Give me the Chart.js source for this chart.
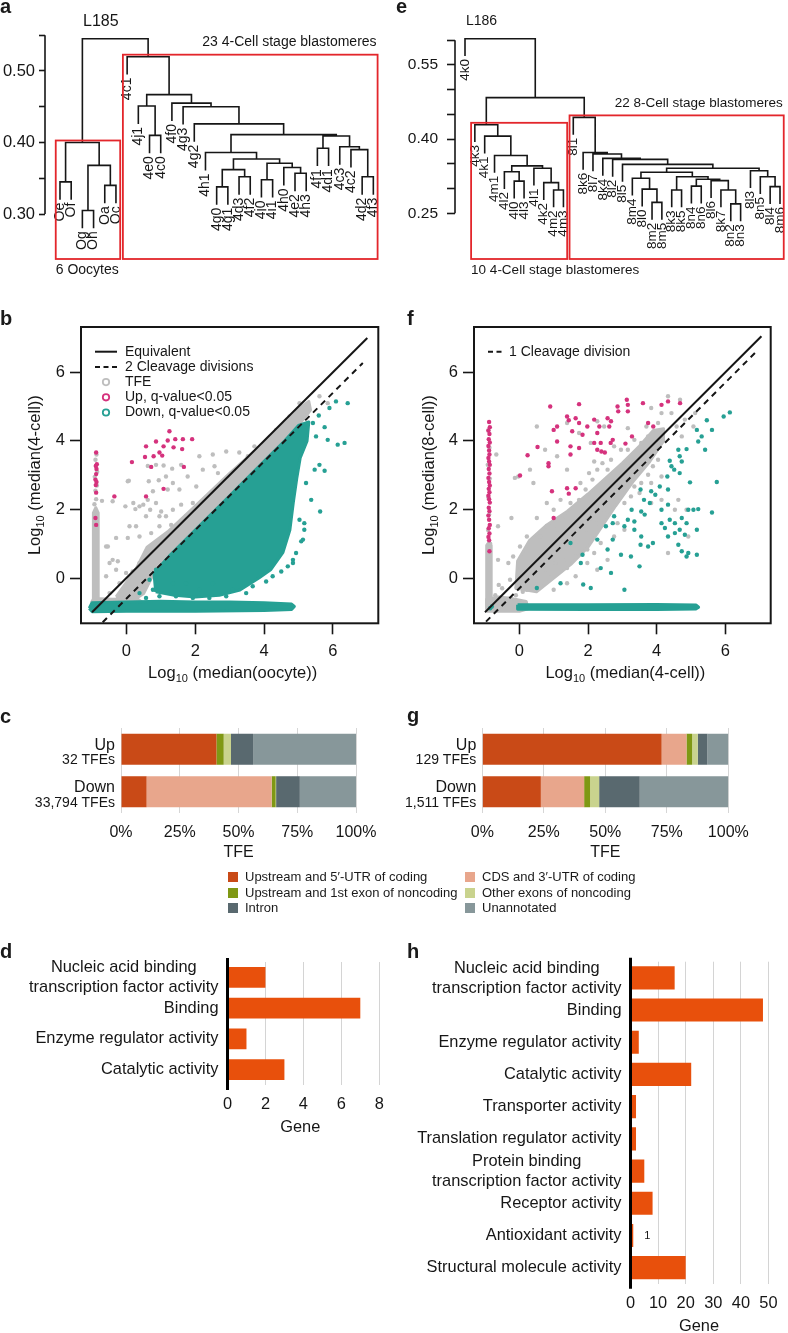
<!DOCTYPE html>
<html>
<head>
<meta charset="utf-8">
<title>TFE clustering and expression figure</title>
<script src="https://cdn.jsdelivr.net/npm/chart.js@4.4.1/dist/chart.umd.min.js"></script>
<style>
  html, body { margin: 0; background: #fff; }
  #fig { position: relative; width: 788px; height: 1333px; overflow: hidden;
         font-family: "Liberation Sans", Arial, sans-serif; color: #1a1a1a; }
  #fig canvas { position: absolute; }
  .tag { position: absolute; font-size: 20px; font-weight: bold; line-height: 20px; }
  .key { position: absolute; font-size: 13px; line-height: 14px; white-space: nowrap; }
  .key i { position: absolute; left: -17px; top: 2px; width: 10px; height: 10px; }
</style>
</head>
<body>
<div id="fig">
  <canvas id="pa" width="394" height="282" style="left:0;top:0"></canvas>
  <canvas id="pe" width="394" height="282" style="left:394px;top:0"></canvas>
  <canvas id="pb" width="394" height="390" style="left:0;top:300px"></canvas>
  <canvas id="pf" width="394" height="390" style="left:394px;top:300px"></canvas>
  <canvas id="pc" width="394" height="170" style="left:0;top:700px"></canvas>
  <canvas id="pg" width="394" height="170" style="left:394px;top:700px"></canvas>
  <canvas id="pd" width="394" height="200" style="left:0;top:935px"></canvas>
  <canvas id="ph" width="394" height="398" style="left:394px;top:935px"></canvas>
  <div class="tag" style="left:0;top:-4px">a</div>
  <div class="tag" style="left:396px;top:-4px">e</div>
  <div class="tag" style="left:0;top:308px">b</div>
  <div class="tag" style="left:407px;top:308px">f</div>
  <div class="tag" style="left:0;top:706px">c</div>
  <div class="tag" style="left:407px;top:705px">g</div>
  <div class="tag" style="left:0;top:941px">d</div>
  <div class="tag" style="left:407px;top:941px">h</div>
</div>
<script>
// ---------- a: oocyte vs 4-cell dendrogram (L185) ----------
const leavesA = ['Oe','Of','Og','Oh','Oa','Oc','4c1','4j1','4e0','4c0','4f0','4g3','4g2','4h1','4g0','4g1',
  '4d3','4f2','4i0','4i1','4h0','4e2','4h3','4f1','4d1','4c3','4c2','4d2','4f3'];
// [left, right, height]; negative = leaf number, positive = earlier merge number
const mergesA = [
  [-1,-2,0.345], [-3,-4,0.305], [-5,-6,0.340], [2,3,0.368], [1,4,0.400],
  [-9,-10,0.410], [-8,6,0.451], [-15,-16,0.338], [-17,-18,0.352], [8,9,0.362],
  [-19,-20,0.348], [-22,-23,0.357], [-21,12,0.365], [11,13,0.371], [10,14,0.377],
  [-14,15,0.386], [-24,-25,0.392], [-28,-29,0.352], [-27,18,0.390], [-26,19,0.394],
  [17,20,0.409], [16,21,0.411], [-13,22,0.426], [-12,23,0.450], [-11,24,0.455],
  [7,25,0.467], [-7,26,0.520], [5,27,0.545]
];

// ---------- e: 4-cell vs 8-cell dendrogram (L186) ----------
const leavesE = ['4k0','4k3','4k1','4m1','4l2','4l0','4l3','4l1','4k2','4m2','4m3','8l1','8k6','8l7','8k4',
  '8l2','8l5','8m4','8l0','8m2','8m5','8k3','8k5','8n4','8n6','8l6','8k7','8n2','8n3','8l3','8n5','8l4','8m6'];
const mergesE = [
  [-6,-7,0.315], [-5,1,0.334], [-10,-11,0.297], [-9,3,0.312], [-8,4,0.341],
  [2,5,0.346], [-4,6,0.367], [-3,7,0.406], [-2,8,0.429], [-20,-21,0.272],
  [-19,10,0.299], [-18,11,0.321], [-22,-23,0.297], [-24,-25,0.305], [-28,-29,0.269],
  [-27,15,0.297], [-26,16,0.316], [14,17,0.319], [13,18,0.324], [12,19,0.333],
  [-32,-33,0.304], [-31,21,0.324], [-30,22,0.336], [20,23,0.341], [-17,24,0.349],
  [-16,25,0.359], [-15,26,0.361], [-14,27,0.370], [-13,28,0.373], [-12,29,0.444],
  [9,30,0.484], [-1,31,0.603]
];

// ---------- b: oocyte -> 4-cell scatter ----------
const bGrayCore = [[-0.3,-0.55],[0.3,0.3],[0.6,0.9],[1.2,1.35],[2.0,2.1],[3.0,3.05],[4.0,3.95],[4.6,4.5],
  [5.1,5.0],[5.3,5.15],[5.35,4.9],[5.0,4.45],[4.0,3.4],[3.0,2.4],[2.0,1.4],[1.3,0.7],[0.8,0.15],[0.5,-0.45],[0.2,-0.65]];
const bGrayColumn = [[-0.96,-0.9],[-0.96,1.9],[-0.89,2.05],[-0.82,1.9],[-0.82,-0.9]];
const bGrayBlob = [[-1.02,-0.72],[-0.95,-0.6],[-0.4,-0.62],[0.3,-0.6],[0.45,-0.7],[-0.5,-0.74]];
const bGrayPts = [[-0.40,2.24],[-0.71,2.25],[0.07,2.84],[0.20,2.19],[-0.03,2.09],[0.26,2.01],[0.49,2.14],[0.65,2.82],
  [0.62,3.27],[0.86,3.30],[1.08,3.28],[1.33,3.19],[0.94,2.85],[1.15,2.96],[1.35,2.77],[1.54,2.58],[1.20,2.58],
  [0.77,2.53],[0.86,2.19],[0.69,1.99],[1.01,1.94],[1.15,1.80],[1.35,1.99],[1.59,2.14],[1.73,1.80],[1.62,1.60],
  [1.30,1.55],[0.96,1.51],[0.72,1.31],[0.38,1.21],[0.09,1.51],[-0.30,1.17],[-0.59,0.92],[-0.25,0.49],[-0.49,0.44],
  [2.22,3.16],[2.12,3.55],[2.51,3.60],[2.90,3.69],[3.28,3.66],[3.53,3.55],[2.56,3.26],[2.66,3.06],[2.03,2.67],
  [1.78,2.96],[1.59,3.30],[2.66,2.67],[2.99,2.96],[3.72,3.84],[4.35,4.32],[4.74,4.71],[5.03,5.10],[5.61,5.30],
  [5.85,5.10],[2.32,2.28],[2.12,1.99],[1.93,2.19],[1.88,1.60],[1.54,1.21],[1.20,1.12],[0.86,0.92],[0.57,0.63],
  [0.38,0.44],[0.18,0.19],[-0.01,0.15],[0.67,0.24],[1.15,0.44],[-0.54,0.92],[-0.40,0.53],[-0.30,0.24],[-0.59,0.05],
  [-0.49,-0.44],[-0.20,-0.15],[-0.01,-0.53],[0.14,-0.29],[0.33,0.05],[0.47,0.34],[0.04,1.17],[0.28,1.51],[0.57,1.80],
  [0.38,2.09],[0.04,2.82],[0.62,2.28],[0.96,1.80],[-0.88,2.30],[-0.90,2.55],[-0.86,2.70],[-0.92,2.95],[-0.85,3.10],
  [-0.90,3.45],[-0.87,3.60],[-0.93,2.15]];
const bTealBand = [[-1.08,-0.88],[-1.0,-0.72],[0.0,-0.7],[1.0,-0.68],[2.0,-0.7],[3.0,-0.7],[4.0,-0.72],[4.8,-0.76],
  [4.88,-0.83],[4.8,-0.92],[4.0,-0.95],[2.0,-0.97],[0.0,-0.97],[-1.0,-0.98]];
const bTealCore = [[0.85,-0.4],[0.8,0.15],[1.3,0.7],[2.0,1.4],[3.0,2.4],[4.0,3.4],[4.6,4.0],[5.0,4.45],[5.3,4.55],
  [5.25,4.0],[5.05,3.5],[4.95,2.9],[4.85,2.2],[4.75,1.4],[4.55,0.75],[4.2,0.25],[3.85,0.0],[3.3,-0.35],[2.7,-0.5],
  [2.0,-0.55],[1.4,-0.5]];
const bTealPts = [[6.09,5.15],[6.43,5.10],[5.90,4.96],[5.59,4.74],[5.76,4.40],[5.42,4.52],[5.85,4.03],[6.14,3.89],
  [6.34,3.94],[5.51,4.13],[5.61,3.30],[5.76,3.13],[5.47,3.16],[5.63,1.94],[5.37,2.28],[5.22,2.77],[5.17,1.60],
  [5.08,1.07],[4.93,0.73],[4.84,0.53],[4.69,0.34],[4.50,0.19],[4.25,0.05],[4.06,-0.10],[3.67,-0.24],[3.48,-0.44],
  [2.90,-0.53],[2.41,-0.58],[1.93,-0.58],[1.44,-0.53],[0.96,-0.53],[0.57,-0.58],[0.38,-0.44],[0.77,-0.34],
  [0.67,-0.05],[0.86,0.24],[1.15,0.44],[2.51,-0.15],[3.09,-0.34],[2.12,-0.34],[1.73,-0.15],[1.35,-0.15],
  [4.84,0.44],[5.13,1.12],[5.17,1.41],[5.03,1.70]];
const bUpPts = [[-0.88,3.66],[-0.86,3.32],[-0.89,3.27],[-0.87,3.18],[-0.88,3.03],[-0.90,2.87],[-0.87,2.80],
  [-0.89,2.71],[-0.88,2.49],[-0.90,1.75],[-0.88,1.55],[1.25,4.28],[0.57,3.84],[0.86,3.98],[1.08,3.84],[1.20,4.01],
  [1.42,4.05],[1.64,4.05],[1.91,4.05],[1.37,3.81],[1.62,3.76],[0.16,3.38],[0.54,3.53],[0.79,3.55],[0.96,3.66],
  [1.04,3.57],[0.72,3.24],[1.67,3.24],[1.08,2.60],[-0.35,2.38],[0.57,2.38]];
const bEquiv = [[-1.0,-1.0],[7.0,7.0]];
const bCleave = [[-0.69,-1.29],[6.87,6.27]];

// ---------- f: 4-cell -> 8-cell scatter ----------
const fGrayCore = [[-0.1,-0.3],[-0.05,0.5],[0.3,1.1],[0.8,1.55],[1.4,1.95],[2.0,2.45],[2.5,2.9],[3.0,3.35],
  [3.5,3.85],[3.9,4.3],[4.2,4.35],[4.2,4.0],[3.8,3.4],[3.3,2.8],[2.8,2.1],[2.4,1.5],[2.0,0.9],[1.5,0.4],[1.0,0.0],[0.5,-0.4]];
const fGrayColumn = [[-0.95,-0.9],[-0.95,0.95],[-0.88,1.05],[-0.82,0.95],[-0.82,-0.9]];
const fGrayBlob = [[-0.95,-0.97],[-0.95,-0.62],[-0.6,-0.55],[-0.2,-0.6],[0.2,-0.68],[0.25,-0.9],[0.0,-0.97]];
const fGrayPts = [[4.33,5.30],[4.68,5.20],[3.84,4.96],[4.14,4.81],[4.43,4.81],[4.58,4.42],[4.04,4.52],[3.70,4.42],
  [3.75,4.13],[3.55,3.94],[3.65,3.69],[3.35,3.55],[3.50,3.26],[3.16,3.26],[3.21,2.96],[2.96,2.96],[3.06,2.67],
  [2.76,2.67],[2.76,2.38],[2.57,2.38],[2.37,2.19],[2.47,1.99],[2.18,1.99],[2.08,1.75],[2.27,1.60],[1.78,1.60],
  [1.93,1.41],[1.59,1.31],[1.39,1.21],[1.20,1.07],[1.00,0.92],[0.80,0.73],[0.61,0.63],[0.41,0.44],[0.22,0.24],
  [0.07,0.05],[1.74,1.02],[1.98,0.83],[1.64,0.63],[1.29,0.53],[1.05,0.44],[0.75,0.24],[0.51,0.15],[1.39,0.29],
  [0.90,0.00],[0.51,-0.19],[0.22,-0.34],[-0.08,-0.29],[-0.27,-0.05],[-0.32,0.44],[-0.18,0.63],[0.02,0.92],
  [0.22,1.21],[-0.23,1.75],[-0.62,1.51],[-0.62,0.53],[0.51,1.75],[0.80,1.51],[0.61,1.21],[1.10,1.41],[1.25,1.70],
  [1.39,1.90],[1.64,1.80],[1.00,1.99],[0.80,2.19],[1.20,2.28],[1.49,2.19],[1.74,2.28],[1.88,1.99],[1.93,2.58],
  [1.78,2.77],[2.13,2.87],[2.27,3.16],[2.18,3.40],[2.42,3.35],[2.57,3.16],[2.67,3.45],[2.03,3.06],[1.39,3.16],
  [1.10,3.55],[0.75,3.74],[0.41,2.77],[0.31,3.16],[-0.03,2.96],[-0.13,2.92],[-0.67,3.60],[0.51,4.42],[1.39,4.52],
  [1.74,4.23],[2.27,4.57],[2.47,4.42],[3.16,4.37],[3.35,4.03],[2.96,3.74],[2.08,3.94],[2.76,3.84],[3.16,3.74],
  [3.94,3.74],[4.04,3.45],[4.14,2.96],[3.75,3.01],[3.84,2.77],[3.89,3.26],[3.55,2.77],[3.35,2.67],[3.25,2.38],
  [3.06,2.19],[3.50,2.48],[3.84,2.19],[4.14,2.28],[4.63,2.28],[4.87,1.99],[4.53,1.99],[4.33,0.73],[4.92,1.21],
  [5.12,4.81],[4.82,4.62],[5.07,4.42],[4.73,4.13],[1.98,0.44],[2.27,0.24],[2.57,0.53],[2.18,0.73],[2.37,1.02],
  [2.76,1.21],[3.06,1.41],[2.86,1.60],[1.64,0.05],[1.39,-0.15],[1.00,-0.34],[-0.70,-0.50],[-0.50,-0.30],
  [-0.30,-0.60],[-0.60,-0.20],[-0.10,-0.50],[0.10,-0.40],[-0.90,4.30],[-0.87,3.80],[-0.92,3.30],[-0.86,2.90],
  [-0.90,2.35],[-0.88,1.85],[-0.91,1.40],[-0.85,1.00]];
const fTealBand = [[-0.05,-0.78],[2.0,-0.78],[4.0,-0.77],[5.15,-0.79],[5.22,-0.85],[5.15,-0.9],[4.0,-0.92],
  [2.0,-0.92],[-0.05,-0.91]];
const fTealPts = [[6.13,4.83],[5.95,4.71],[5.46,4.60],[5.61,4.32],[5.17,4.32],[5.31,4.13],[5.21,3.98],[5.41,3.74],
  [4.87,3.76],[4.63,3.74],[4.38,3.42],[4.67,3.55],[4.73,3.40],[4.43,3.26],[4.51,3.16],[4.67,3.06],[4.31,2.96],
  [4.97,2.79],[5.75,2.80],[4.09,2.67],[3.84,2.53],[3.96,2.43],[3.53,2.58],[3.63,2.28],[3.80,2.19],[4.33,2.58],
  [4.33,2.14],[4.14,1.99],[3.55,1.94],[3.65,1.85],[3.27,1.99],[3.16,1.70],[3.35,1.65],[2.76,1.80],[2.52,1.51],
  [2.72,1.60],[3.06,1.51],[3.35,1.41],[3.55,1.21],[3.53,0.97],[3.75,0.92],[3.89,1.02],[4.14,1.60],[4.24,1.46],
  [4.38,1.70],[4.53,1.60],[4.73,1.75],[4.67,1.41],[4.87,1.60],[4.92,1.99],[5.07,1.99],[5.21,2.01],[5.61,1.91],
  [4.33,1.21],[4.53,1.31],[4.82,1.26],[5.17,1.41],[4.63,0.97],[4.73,0.78],[4.92,0.73],[5.17,0.68],[4.87,0.63],
  [2.27,1.12],[1.84,0.68],[1.79,0.44],[2.37,0.29],[2.67,0.15],[2.96,0.68],[3.25,0.63],[3.50,0.34],[1.49,1.02],
  [1.20,-0.15],[0.51,-0.29],[1.86,-0.19],[2.08,-0.29],[3.06,-0.34],[2.57,0.83],[2.72,1.12],[-0.85,-0.88],[-0.80,-0.83]];
const fUpPts = [[-0.88,4.55],[-0.86,4.40],[-0.90,4.30],[-0.87,4.20],[-0.89,4.05],[-0.86,3.95],[-0.90,3.85],
  [-0.88,3.72],[-0.87,3.60],[-0.90,3.50],[-0.88,3.40],[-0.86,3.30],[-0.89,3.18],[-0.87,3.05],[-0.90,2.92],
  [-0.88,2.80],[-0.86,2.70],[-0.89,2.60],[-0.87,2.50],[-0.90,2.40],[-0.88,2.30],[-0.86,2.20],[-0.89,2.05],
  [-0.87,1.95],[-0.90,1.82],[-0.88,1.70],[-0.86,1.55],[-0.89,1.45],[-0.87,1.30],[-0.90,1.20],[-0.88,1.10],
  [-0.87,0.78],[0.90,5.00],[1.74,5.07],[1.39,4.71],[1.44,4.60],[1.64,4.66],[1.10,4.42],[1.00,4.32],[1.54,4.28],
  [1.74,4.52],[1.84,4.18],[2.18,4.62],[2.33,4.42],[2.57,4.66],[2.67,4.57],[2.62,4.42],[2.86,5.00],[2.88,4.86],
  [3.13,5.20],[3.16,5.05],[3.16,4.86],[3.60,5.10],[4.14,5.05],[4.33,5.15],[4.68,5.10],[3.75,4.52],[3.90,4.42],
  [3.28,4.13],[3.09,3.92],[2.72,4.03],[2.66,3.94],[2.37,3.94],[2.27,4.23],[2.18,3.94],[1.98,4.42],[1.10,3.98],
  [1.49,3.84],[1.49,3.60],[1.74,3.79],[2.27,3.74],[2.39,3.69],[2.49,3.66],[0.24,3.58],[0.53,3.82],[0.02,2.99],
  [0.85,3.35],[0.85,3.26],[1.39,2.62],[1.64,2.62],[1.44,2.46],[0.95,2.53],[1.00,1.75]];
const fEquiv = [[-1.0,-1.0],[7.05,7.05]];
const fCleave = [[-0.97,-1.27],[6.9,6.6]];

// ---------- c / g: TFE annotation (percent of TFEs) ----------
const segLabels = ['Upstream and 5\u2032-UTR of coding', 'CDS and 3\u2032-UTR of coding',
  'Upstream and 1st exon of noncoding', 'Other exons of noncoding', 'Intron', 'Unannotated'];
const segColors = ['#c94a17', '#e8a68c', '#7f9814', '#c9d38e', '#59696f', '#87979a'];
const tfeRows = ['Up', 'Down'];
const cCounts = ['32 TFEs', '33,794 TFEs'];
const gCounts = ['129 TFEs', '1,511 TFEs'];
const cUp = [40.6, 0, 3.1, 3.1, 9.4, 43.8];
const cDown = [10.9, 53.2, 1.7, 0.2, 10.1, 23.9];
const gUp = [72.9, 10.1, 2.3, 2.3, 3.9, 8.5];
const gDown = [23.8, 17.6, 2.4, 3.7, 16.5, 36.0];
const pctTicks = [0, 25, 50, 75, 100];

// ---------- d / h: GO molecular function (genes) ----------
const goD = [['Nucleic acid binding', 'transcription factor activity'], 'Binding', 'Enzyme regulator activity',
  'Catalytic activity'];
const geneD = [2, 7, 1, 3];
const goH = [['Nucleic acid binding', 'transcription factor activity'], 'Binding', 'Enzyme regulator activity',
  'Catalytic activity', 'Transporter activity', 'Translation regulator activity',
  ['Protein binding', 'transcription factor activity'], 'Receptor activity', 'Antioxidant activity',
  'Structural molecule activity'];
const geneH = [16, 48, 3, 22, 2, 2, 5, 8, 1, 20];

// ===================================================================
const FONT = '"Liberation Sans", Arial, sans-serif';
const INK = '#161616';
const GRAY = '#bebebe', PINK = '#d5327d', TEAL = '#26a094', RED = '#e3262b', BAR = '#e8500c';
Chart.defaults.font.family = FONT;
Chart.defaults.color = INK;
Chart.defaults.animation = false;
Chart.defaults.plugins.legend.display = false;
Chart.defaults.plugins.tooltip.enabled = false;

const pts = arr => arr.map(([x, y]) => ({x, y}));
const poly = arr => pts(arr.concat([arr[0]]));

// ---------------- dendrograms ----------------
function dendrogram(id, leaves, merges, o) {
  const nodeX = [], leafEnd = [], segs = [];
  merges.forEach(([a, b, h]) => {
    const ends = [a, b].map(k => {
      if (k < 0) { leafEnd[-k - 1] = h - o.hang; return {x: -k, y: h - o.hang}; }
      return {x: nodeX[k - 1], y: merges[k - 1][2]};
    });
    segs.push({x: ends[0].x, y: ends[0].y}, {x: ends[0].x, y: h}, {x: ends[1].x, y: h},
              {x: ends[1].x, y: ends[1].y}, {x: ends[1].x, y: null});
    nodeX.push((ends[0].x + ends[1].x) / 2);
  });

  const deco = {
    id: 'dendro',
    afterDraw(chart) {
      const {ctx, chartArea: area, scales: {x, y}} = chart;
      ctx.save();
      ctx.strokeStyle = INK; ctx.lineWidth = 1.6;
      ctx.beginPath();
      ctx.moveTo(area.left, y.getPixelForValue(o.axis[0]));
      ctx.lineTo(area.left, y.getPixelForValue(o.axis[1]));
      ctx.stroke();
      // leaf labels, rotated
      ctx.fillStyle = INK; ctx.font = o.leafFont + 'px ' + FONT;
      ctx.textAlign = 'right'; ctx.textBaseline = 'middle';
      leaves.forEach((lab, i) => {
        ctx.save();
        ctx.translate(x.getPixelForValue(i + 1), y.getPixelForValue(leafEnd[i]) + 3);
        ctx.rotate(-Math.PI / 2);
        ctx.fillText(lab, 0, 0);
        ctx.restore();
      });
      // cluster boxes
      ctx.font = o.capFont + 'px ' + FONT;
      o.clusters.forEach(c => {
        const l = x.getPixelForValue(c.from - 0.38), r = x.getPixelForValue(c.to + 0.38);
        const t = y.getPixelForValue(merges[c.node - 1][2]) - 2, b = area.bottom - 3;
        ctx.strokeStyle = RED; ctx.lineWidth = 1.8;
        ctx.strokeRect(l, t, r - l, b - t);
        ctx.fillStyle = INK;
        if (c.above) { ctx.textAlign = 'right'; ctx.fillText(c.text, r - 1, t - 12.5); }
        else { ctx.textAlign = 'left'; ctx.fillText(c.text, l, b + 11); }
      });
      ctx.textAlign = 'left';
      ctx.font = o.titleFont + 'px ' + FONT;
      ctx.fillText(o.title, o.titleX, 21.5);
      ctx.restore();
    }
  };

  new Chart(document.getElementById(id), {
    type: 'scatter',
    data: {datasets: [{data: segs, showLine: true, spanGaps: false, borderColor: INK, borderWidth: 1.6,
      pointRadius: 0}]},
    options: {
      responsive: false,
      layout: {padding: {left: 0, right: o.padRight, top: 28, bottom: 20}},
      scales: {
        x: {type: 'linear', display: false, min: o.xMin, max: o.xMax},
        y: {min: o.yMin, max: o.yMax, border: {display: false},
          afterFit: s => { s.width = o.axisLeft; },
          afterBuildTicks: s => { s.ticks = s.ticks.filter(t => t.value > o.axis[0] - 1e-6 && t.value < o.axis[1] + 1e-6); },
          grid: {drawOnChartArea: false, tickLength: o.tickLen, tickColor: INK, tickWidth: 1.6},
          ticks: {stepSize: 0.05, includeBounds: false, padding: o.tickPad, font: {size: o.tickFont}, color: INK,
            callback: v => o.tickLabels.some(t => Math.abs(t - v) < 1e-6) ? v.toFixed(2) : ''}}
      }
    },
    plugins: [deco]
  });
}

dendrogram('pa', leavesA, mergesA, {
  hang: 0.025, xMin: -0.34, xMax: 30.31, yMin: 0.2329, yMax: 0.5601, padRight: 6,
  axisLeft: 45, tickLen: 6, tickPad: 4, axis: [0.30, 0.55], tickLabels: [0.30, 0.40, 0.50],
  tickFont: 16.5, leafFont: 14, capFont: 14, titleFont: 16, title: 'L185', titleX: 83,
  clusters: [{from: 1, to: 6, node: 5, text: '6 Oocytes', above: false},
             {from: 7, to: 29, node: 27, text: '23 4-Cell stage blastomeres', above: true}]
});
dendrogram('pe', leavesE, mergesE, {
  hang: 0.035, xMin: -0.016, xMax: 33.61, yMin: 0.1515, yMax: 0.6248, padRight: 2,
  axisLeft: 61, tickLen: 8, tickPad: 9, axis: [0.25, 0.60], tickLabels: [0.25, 0.40, 0.55],
  tickFont: 15.5, leafFont: 13.5, capFont: 13.5, titleFont: 14, title: 'L186', titleX: 72,
  clusters: [{from: 2, to: 11, node: 9, text: '10 4-Cell stage blastomeres', above: false},
             {from: 12, to: 33, node: 30, text: '22 8-Cell stage blastomeres', above: true}]
});

// ---------------- scatter panels ----------------
function logTitle(ctx, rest, cx, cy, rot) {
  ctx.save();
  ctx.translate(cx, cy); ctx.rotate(rot);
  ctx.fillStyle = INK; ctx.textAlign = 'left'; ctx.textBaseline = 'middle';
  ctx.font = '16.5px ' + FONT;
  const w1 = ctx.measureText('Log').width, w3 = ctx.measureText(' ' + rest).width;
  ctx.font = '11px ' + FONT;
  const w2 = ctx.measureText('10').width;
  let xx = -(w1 + w2 + w3) / 2;
  ctx.font = '16.5px ' + FONT; ctx.fillText('Log', xx, 0); xx += w1;
  ctx.font = '11px ' + FONT; ctx.fillText('10', xx, 5.5); xx += w2;
  ctx.font = '16.5px ' + FONT; ctx.fillText(' ' + rest, xx, 0);
  ctx.restore();
}

function scatterPanel(id, d) {
  const blob = (arr, color, order) => ({data: poly(arr), showLine: true, fill: 'shape', backgroundColor: color,
    borderColor: color, borderWidth: 3, borderJoinStyle: 'round', pointRadius: 0, order});
  const dots = (arr, color, order) => ({data: pts(arr), backgroundColor: color, borderWidth: 0,
    pointRadius: 2.2, order});
  const line = (arr, dash) => ({data: pts(arr), showLine: true, borderColor: INK, borderWidth: 2,
    borderDash: dash, pointRadius: 0, order: 0});

  const datasets = [
    blob(d.grayCore, GRAY, 10), blob(d.grayColumn, GRAY, 10), blob(d.grayBlob, GRAY, 10),
    dots(d.grayPts, GRAY, 9),
    blob(d.tealBand, TEAL, 8),
    dots(d.tealPts, TEAL, 6),
    dots(d.upPts, PINK, 5),
    line(d.cleave, [6, 5])
  ];
  if (d.tealCore) datasets.push(blob(d.tealCore, TEAL, 7));
  if (d.equiv) datasets.push(line(d.equiv, []));

  const deco = {
    id: 'scatterDeco',
    afterDraw(chart) {
      const {ctx, chartArea: a} = chart;
      ctx.save();
      ctx.strokeStyle = INK; ctx.lineWidth = 2;
      ctx.strokeRect(a.left, a.top, a.width, a.height);
      // legend
      ctx.font = '14px ' + FONT; ctx.textBaseline = 'middle'; ctx.textAlign = 'left';
      d.legend.forEach((it, i) => {
        const yy = a.top + 24.7 + i * 15.2;
        const x0 = a.left + d.legendGeo[0], x1 = a.left + d.legendGeo[1];
        ctx.strokeStyle = it.color || INK; ctx.lineWidth = it.kind === 'ring' ? 1.8 : 2;
        ctx.setLineDash(it.kind === 'dash' ? [5, 3.5] : []);
        ctx.beginPath();
        if (it.kind === 'ring') ctx.arc((x0 + x1) / 2, yy, 3.2, 0, Math.PI * 2);
        else { ctx.moveTo(x0, yy); ctx.lineTo(x1, yy); }
        ctx.stroke();
        ctx.setLineDash([]);
        ctx.fillStyle = INK;
        ctx.fillText(it.text, a.left + d.legendGeo[2], yy);
      });
      logTitle(ctx, d.xTitle, (a.left + a.right) / 2 + 3, a.bottom + 50, 0);
      logTitle(ctx, d.yTitle, 35, (a.top + a.bottom) / 2, -Math.PI / 2);
      ctx.restore();
    }
  };

  const axisOpts = (fit) => ({
    min: -1.32, max: 7.32, border: {display: false},
    afterFit: fit,
    afterBuildTicks: s => { s.ticks = s.ticks.filter(t => t.value >= -0.001 && t.value <= 6.001); },
    grid: {drawOnChartArea: false, tickLength: 11, tickColor: INK, tickWidth: 1.6},
    ticks: {stepSize: 2, includeBounds: false, font: {size: 16.5}, color: INK, maxRotation: 0}
  });
  const xs = axisOpts(s => { s.height = 390 - 323.3; }); xs.ticks.padding = 7;
  const ys = axisOpts(s => { s.width = d.left; }); ys.ticks.padding = 5;

  new Chart(document.getElementById(id), {
    type: 'scatter',
    data: {datasets},
    options: {
      responsive: false,
      layout: {padding: {left: 0, right: 394 - d.right, top: 27, bottom: 0}},
      scales: {x: xs, y: ys}
    },
    plugins: [deco]
  });
}

scatterPanel('pb', {
  grayCore: bGrayCore, grayColumn: bGrayColumn, grayBlob: bGrayBlob, grayPts: bGrayPts,
  tealBand: bTealBand, tealCore: bTealCore, tealPts: bTealPts, upPts: bUpPts,
  equiv: bEquiv, cleave: bCleave, left: 81, right: 378.3,
  xTitle: '(median(oocyte))', yTitle: '(median(4-cell))',
  legendGeo: [14, 36, 44],
  legend: [{text: 'Equivalent', kind: 'solid'}, {text: '2 Cleavage divisions', kind: 'dash'},
           {text: 'TFE', kind: 'ring', color: GRAY}, {text: 'Up, q-value<0.05', kind: 'ring', color: PINK},
           {text: 'Down, q-value<0.05', kind: 'ring', color: TEAL}]
});
scatterPanel('pf', {
  grayCore: fGrayCore, grayColumn: fGrayColumn, grayBlob: fGrayBlob, grayPts: fGrayPts,
  tealBand: fTealBand, tealCore: null, tealPts: fTealPts, upPts: fUpPts,
  equiv: fEquiv, cleave: fCleave, left: 80, right: 376.7,
  xTitle: '(median(4-cell))', yTitle: '(median(8-cell))',
  legendGeo: [14, 30, 35],
  legend: [{text: '1 Cleavage division', kind: 'dash'}]
});

// ---------------- TFE annotation bars ----------------
function tfePanel(id, counts, up, down, left, right) {
  const values = [up, down];
  const datasets = segLabels.map((lab, k) => ({label: lab, data: values.map(v => v[k]),
    backgroundColor: segColors[k], barPercentage: 0.73, categoryPercentage: 1}));
  const deco = {
    id: 'tfeDeco',
    afterDraw(chart) {
      const {ctx, chartArea: a, scales: {y}} = chart;
      ctx.save();
      ctx.fillStyle = INK; ctx.textAlign = 'right'; ctx.textBaseline = 'middle';
      tfeRows.forEach((r, i) => {
        const cy = y.getPixelForValue(i);
        ctx.font = '16px ' + FONT; ctx.fillText(r, a.left - 6, cy - 4);
        ctx.font = '14px ' + FONT; ctx.fillText(counts[i], a.left - 6, cy + 11);
      });
      ctx.font = '16px ' + FONT; ctx.textAlign = 'center';
      ctx.fillText('TFE', (a.left + a.right) / 2, a.bottom + 40);
      ctx.restore();
    }
  };
  new Chart(document.getElementById(id), {
    type: 'bar',
    data: {labels: tfeRows, datasets},
    options: {
      responsive: false, indexAxis: 'y',
      layout: {padding: {left: 0, right: 394 - right, top: 28, bottom: 0}},
      scales: {
        x: {stacked: true, min: 0, max: 100, border: {display: false},
          afterFit: s => { s.height = 57; },
          afterBuildTicks: s => { s.ticks = pctTicks.map(v => ({value: v})); },
          grid: {color: '#d6d6d6', lineWidth: 1, drawTicks: false},
          ticks: {padding: 10, font: {size: 16}, color: INK, maxRotation: 0, callback: v => v + '%'}},
        y: {stacked: true, border: {display: false}, grid: {display: false}, ticks: {display: false},
          afterFit: s => { s.width = left; }}
      }
    },
    plugins: [deco]
  });
}
tfePanel('pc', cCounts, cUp, cDown, 121, 356);
tfePanel('pg', gCounts, gUp, gDown, 88.3, 334.3);

// shared legend for c and g
const fig = document.getElementById('fig');
segLabels.forEach((lab, k) => {
  const el = document.createElement('div');
  el.className = 'key';
  el.style.left = [245, 482][k % 2] + 'px';
  el.style.top = (870 + Math.floor(k / 2) * 15.5) + 'px';
  el.innerHTML = '<i style="background:' + segColors[k] + '"></i>' + lab;
  fig.appendChild(el);
});

// ---------------- GO bars ----------------
function goPanel(id, cats, genes, o) {
  const deco = {
    id: 'goDeco',
    afterDraw(chart) {
      const {ctx, chartArea: a, scales: {x, y}} = chart;
      ctx.save();
      const x0 = x.getPixelForValue(0);
      ctx.strokeStyle = '#000'; ctx.lineWidth = 3;
      ctx.beginPath(); ctx.moveTo(x0, a.top - 4); ctx.lineTo(x0, a.bottom + 5); ctx.stroke();
      ctx.fillStyle = INK; ctx.textBaseline = 'middle'; ctx.font = '16.4px ' + FONT;
      const right = a.left - 9;
      cats.forEach((c, i) => {
        const cy = y.getPixelForValue(i);
        if (Array.isArray(c)) {
          const w = Math.max(...c.map(l => ctx.measureText(l).width));
          ctx.textAlign = 'center';
          c.forEach((l, j) => ctx.fillText(l, right - w / 2, cy - 9.5 + j * 20));
        } else {
          ctx.textAlign = 'right'; ctx.fillText(c, right, cy);
        }
      });
      if (o.noteIndex !== undefined) {
        ctx.font = '11px ' + FONT; ctx.textAlign = 'left';
        ctx.fillText(String(genes[o.noteIndex]), x.getPixelForValue(genes[o.noteIndex]) + 11,
          y.getPixelForValue(o.noteIndex));
      }
      ctx.font = '16.4px ' + FONT; ctx.textAlign = 'center';
      ctx.fillText('Gene', (a.left + a.right) / 2 - 6, a.bottom + o.titleGap);
      ctx.restore();
    }
  };
  new Chart(document.getElementById(id), {
    type: 'bar',
    data: {labels: cats.map(c => Array.isArray(c) ? c.join(' ') : c),
      datasets: [{data: genes, backgroundColor: BAR, barPercentage: o.bar, categoryPercentage: 1}]},
    options: {
      responsive: false, indexAxis: 'y',
      layout: {padding: {left: 0, right: o.padRight, top: o.top, bottom: 0}},
      scales: {
        x: {min: 0, max: o.max, border: {display: false},
          afterFit: s => { s.height = o.xHeight; },
          afterBuildTicks: s => { s.ticks = o.ticks.map(v => ({value: v})); },
          grid: {drawTicks: false, lineWidth: 1, color: c => c.tick && c.tick.value === 0 ? 'rgba(0,0,0,0)' : '#d4d4d4'},
          ticks: {padding: 10, font: {size: 16.4}, color: INK, maxRotation: 0}},
        y: {border: {display: false}, grid: {display: false}, ticks: {display: false},
          afterFit: s => { s.width = o.left; }}
      }
    },
    plugins: [deco]
  });
}
goPanel('pd', goD, geneD, {left: 227.5, padRight: 4.6, top: 27, xHeight: 50, max: 8.3,
  ticks: [0, 2, 4, 6, 8], bar: 0.68, titleGap: 42});
goPanel('ph', goH, geneH, {left: 236.5, padRight: 5.5, top: 26.7, xHeight: 49.2, max: 54,
  ticks: [0, 10, 20, 30, 40, 50], bar: 0.72, titleGap: 43, noteIndex: 8});
</script>
</body>
</html>
